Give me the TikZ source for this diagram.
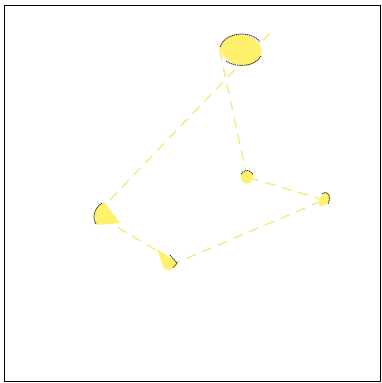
\documentclass[tikz,border=0pt]{standalone}
\begin{document}
\begin{tikzpicture}[x=1pt,y=-1pt,
  link/.style={draw={rgb,255:red,245;green,232;blue,125},line width=1.3pt,dash pattern=on 10pt off 7pt},
  blob/.style={fill={rgb,255:red,255;green,240;blue,110}},
  rim/.style={draw=black!80,line width=0.9pt,dash pattern=on 1.2pt off 0.7pt}]
\useasboundingbox (0,0) rectangle (382,383);
\draw[black,line width=1pt] (4,5) rectangle (380,381);
% vertices
\coordinate (t0) at (270,33);
\coordinate (a) at (104,206);
\coordinate (a2) at (103,219);
\coordinate (b) at (161,253);
\coordinate (b2) at (171,265);
\coordinate (c) at (324,200);
\coordinate (d) at (247,177);
\coordinate (e) at (220,52);
% connectors
\draw[link] (t0) -- (a);
\draw[link] (a2) -- (b);
\draw[link] (b2) -- (c);
\draw[link] (c) -- (d);
\draw[link] (d) -- (e);
% shapes
\fill[blob] (219,50) .. controls (222,29) and (256,29) .. (262,50) .. controls (260,70) and (232,72) .. (219,50) -- cycle;
\draw[rim] (220,47) .. controls (224,33) and (250,29) .. (260,42);
\draw[rim] (226,61) .. controls (236,68) and (255,67) .. (261,56);
\fill[blob] (120,223) -- (104,202) .. controls (94,207) and (91,219) .. (97,225) -- cycle;
\draw[rim] (102,203) .. controls (94,208) and (92,218) .. (96,224);
\fill[blob] (157,249) -- (177,262) .. controls (176,268) and (170,272) .. (164,269) -- cycle;
\draw[rim] (170,255) -- (177,263) -- (173,268);
\fill[blob] (d) circle (6.5);
\draw[rim] (d) ++(205:6.5) arc (205:335:6.5);
\fill[blob] (320,206) .. controls (316,200) and (324,190) .. (329,193) .. controls (333,197) and (327,208) .. (320,206) -- cycle;
\draw[rim] (322,194) .. controls (327,190) and (332,195) .. (328,204);
\end{tikzpicture}
\end{document}
